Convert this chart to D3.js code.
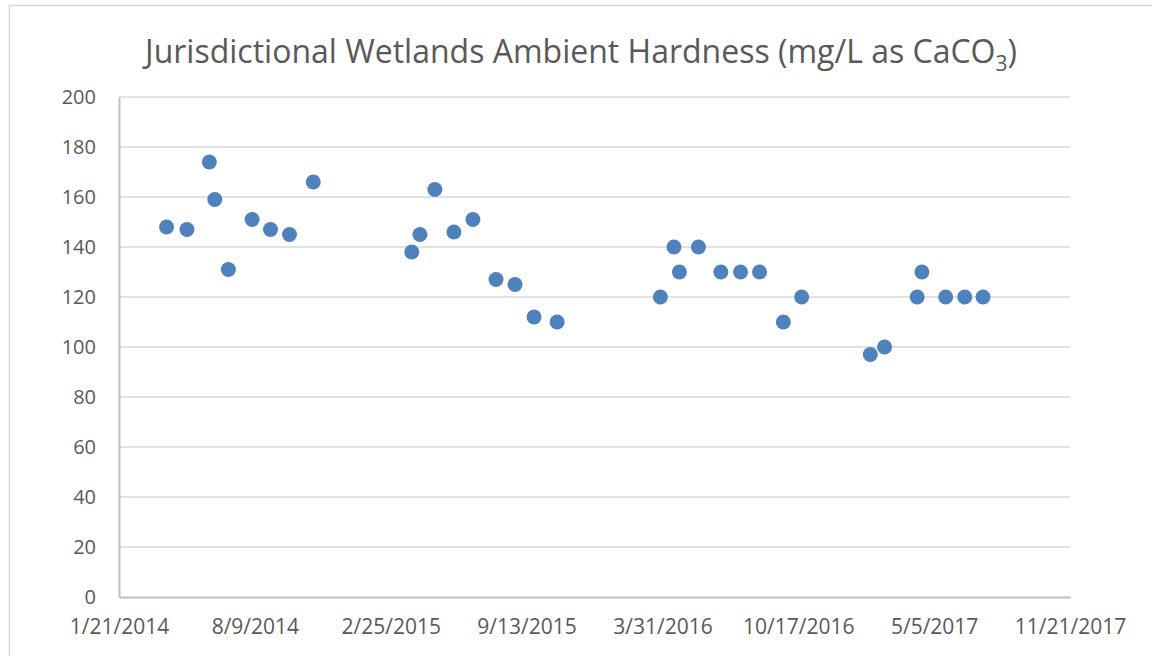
<!DOCTYPE html>
<html>
<head>
<meta charset="utf-8">
<script src="https://cdnjs.cloudflare.com/ajax/libs/d3/7.8.5/d3.min.js"></script>
<style>
  body { margin: 0; background: #fff; }
  svg text { font-family: "Open Sans", "Noto Sans", sans-serif; fill: #595959; }
</style>
</head>
<body>
<div id="chart"></div>
<script>
'use strict';

// sample dates
var sampleDates = [
    '2014-04-01', '2014-05-01', '2014-06-03', '2014-06-11', '2014-07-01', '2014-08-05',
    '2014-09-01', '2014-09-29', '2014-11-03',
    '2015-03-28', '2015-04-09', '2015-05-01', '2015-05-29', '2015-06-26', '2015-07-30',
    '2015-08-27', '2015-09-24', '2015-10-28',
    '2016-03-28', '2016-04-17', '2016-04-25', '2016-05-23', '2016-06-25', '2016-07-24',
    '2016-08-21', '2016-09-25', '2016-10-22',
    '2017-01-31', '2017-02-21', '2017-04-10', '2017-04-17', '2017-05-22', '2017-06-19',
    '2017-07-16'
];

// hardness, mg/L as CaCO3
var hardness = [
    148, 147, 174, 159, 131, 151, 147, 145, 166,
    138, 145, 163, 146, 151, 127, 125, 112, 110,
    120, 140, 130, 140, 130, 130, 130, 110, 120,
    97, 100, 120, 130, 120, 120, 120
];

var xTickDates = ['2014-01-21', '2014-08-09', '2015-02-25', '2015-09-13', '2016-03-31',
    '2016-10-17', '2017-05-05', '2017-11-21'];
var yTicks = [0, 20, 40, 60, 80, 100, 120, 140, 160, 180, 200];

var W = 1152, H = 656;
var margin = { top: 97, right: 82, bottom: 59, left: 119 };
var width = W - margin.left - margin.right;
var height = H - margin.top - margin.bottom;

var parseDate = d3.timeParse('%Y-%m-%d');
var fmtTick = function(d) {
    return (d.getMonth() + 1) + '/' + d.getDate() + '/' + d.getFullYear();
};

var data = sampleDates.map(function(d, i) {
    return { date: parseDate(d), value: hardness[i] };
});
var ticks = xTickDates.map(parseDate);

var x = d3.scaleTime().domain([ticks[0], ticks[ticks.length - 1]]).range([0, width]);
var y = d3.scaleLinear().domain([0, 200]).range([height, 0]);

var svg = d3.select('#chart').append('svg')
    .attr('width', W)
    .attr('height', H);

// chart frame
svg.append('rect')
    .attr('x', 9.5).attr('y', 5.5)
    .attr('width', W).attr('height', H)
    .attr('fill', 'none')
    .attr('stroke', '#d9d9d9')
    .attr('stroke-width', 1.5);

// title
var title = svg.append('text')
    .attr('x', 581)
    .attr('y', 63)
    .attr('text-anchor', 'middle')
    .style('font-size', '32px');
title.append('tspan').text('Jurisdictional Wetlands Ambient Hardness (mg/L as CaCO');
title.append('tspan').attr('dy', 8).style('font-size', '21px').text('3');
title.append('tspan').attr('dy', -8).text(')');

var g = svg.append('g')
    .attr('transform', 'translate(' + margin.left + ',' + margin.top + ')');

// gridlines
g.selectAll('.grid')
    .data(yTicks.filter(function(d) { return d > 0; }))
    .enter().append('line')
    .attr('class', 'grid')
    .attr('x1', 0)
    .attr('x2', width)
    .attr('y1', function(d) { return y(d); })
    .attr('y2', function(d) { return y(d); })
    .attr('stroke', '#d9d9d9')
    .attr('stroke-width', 1.5);

var yAxis = d3.axisLeft(y).tickValues(yTicks).tickSize(0).tickPadding(23);
var gy = g.append('g').call(yAxis);
gy.select('.domain').attr('stroke', '#bfbfbf').attr('stroke-width', 2);
gy.selectAll('text').style('font-size', '20px').attr('fill', '#595959');

var xAxis = d3.axisBottom(x).tickValues(ticks).tickFormat(fmtTick).tickSize(0).tickPadding(22);
var gx = g.append('g')
    .attr('transform', 'translate(0,' + height + ')')
    .call(xAxis);
gx.select('.domain').attr('stroke', '#bfbfbf').attr('stroke-width', 2);
gx.selectAll('text').style('font-size', '21px').attr('fill', '#595959');

// points
g.selectAll('.dot')
    .data(data)
    .enter().append('circle')
    .attr('class', 'dot')
    .attr('cx', function(d) { return x(d.date); })
    .attr('cy', function(d) { return y(d.value); })
    .attr('r', 7.5)
    .attr('fill', '#4f81bd');
</script>
</body>
</html>
